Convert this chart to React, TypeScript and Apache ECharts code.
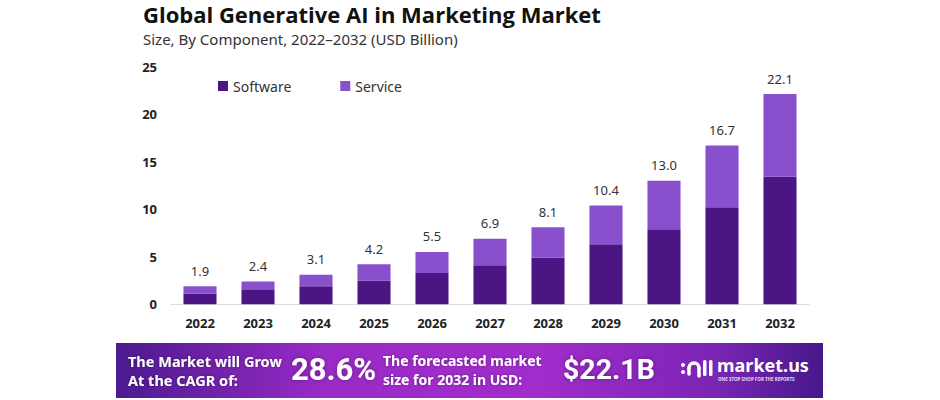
import React, { useEffect, useRef } from "react";
import * as echarts from "echarts";

const years = ["2022", "2023", "2024", "2025", "2026", "2027", "2028", "2029", "2030", "2031", "2032"];
const software = [1.1, 1.5, 1.9, 2.5, 3.3, 4.1, 4.9, 6.3, 7.9, 10.2, 13.4];
const service = [0.8, 0.9, 1.2, 1.7, 2.2, 2.8, 3.2, 4.1, 5.1, 6.5, 8.7];
const totals = [1.9, 2.4, 3.1, 4.2, 5.5, 6.9, 8.1, 10.4, 13.0, 16.7, 22.1];
const yMax = 25;
const yInterval = 5;

const title = "Global Generative AI in Marketing Market";
const subtitle = "Size, By Component, 2022–2032 (USD Billion)";
const cagrLines = ["The Market will Grow", "At the CAGR of:"];
const cagrValue = "28.6%";
const forecastLines = ["The forecasted market", "size for 2032 in USD:"];
const forecastValue = "$22.1B";
const brand = "market.us";
const tagline = "ONE STOP SHOP FOR THE REPORTS";

const DARK = "#4b1684";
const LIGHT = "#8a4fcc";

export default function App() {
  const ref = useRef<HTMLDivElement>(null);
  useEffect(() => {
    document.body.style.margin = "0";
    const chart = echarts.init(ref.current!, null, { renderer: "svg" });
    const white = "#ffffff";
    const bannerLine = (text: string, x: number, y: number, size: number) => ({
      type: "text",
      x,
      y,
      style: {
        text,
        fontFamily: "Noto Sans",
        fontWeight: "bold",
        fontSize: size,
        lineHeight: 15,
        fill: white,
        verticalAlign: "middle",
        textShadowColor: "rgba(0,0,0,0.35)",
        textShadowBlur: 3,
      },
    });
    chart.setOption({
      animation: false,
      backgroundColor: "#ffffff",
      legend: {
        left: 213,
        top: 74,
        itemWidth: 10,
        itemHeight: 10,
        itemGap: 49,
        icon: "rect",
        textStyle: { fontFamily: "Noto Sans", fontSize: 14, color: "#333" },
        data: ["Software", "Service"],
      },
      grid: { left: 171, right: 131, top: 66.5, bottom: 95.7 },
      xAxis: {
        type: "category",
        data: years,
        axisLine: { lineStyle: { color: "#dddddd", width: 1 } },
        axisTick: { show: false },
        axisLabel: {
          margin: 12,
          fontFamily: "Open Sans",
          fontWeight: "bold",
          fontSize: 13,
          color: "#222",
        },
      },
      yAxis: {
        type: "value",
        min: 0,
        max: yMax,
        interval: yInterval,
        splitLine: { show: false },
        axisLine: { show: false },
        axisTick: { show: false },
        axisLabel: {
          margin: 14,
          fontFamily: "Open Sans",
          fontWeight: "bold",
          fontSize: 13,
          color: "#222",
        },
      },
      series: [
        {
          name: "Software",
          type: "bar",
          stack: "total",
          data: software,
          barWidth: "57%",
          itemStyle: { color: DARK },
        },
        {
          name: "Service",
          type: "bar",
          stack: "total",
          data: service,
          barWidth: "57%",
          itemStyle: { color: LIGHT },
          label: {
            show: true,
            position: "top",
            distance: 9,
            fontFamily: "Noto Sans",
            fontSize: 13,
            color: "#333",
            formatter: (p: any) => totals[p.dataIndex].toFixed(1),
          },
        },
      ],
      graphic: [
        {
          type: "text",
          left: 143,
          top: 3,
          style: { text: title, fontFamily: "Open Sans", fontWeight: "bold", fontSize: 22, fill: "#111" },
        },
        {
          type: "text",
          left: 143,
          top: 31,
          style: { text: subtitle, fontFamily: "Noto Sans", fontSize: 15, fill: "#333" },
        },
        {
          type: "rect",
          shape: { x: 116, y: 343, width: 707, height: 55 },
          style: {
            fill: {
              type: "linear",
              x: 0,
              y: 0,
              x2: 1,
              y2: 0,
              colorStops: [
                { offset: 0, color: "#4c1a8e" },
                { offset: 0.3, color: "#9a2bc8" },
                { offset: 0.6, color: "#a22ccc" },
                { offset: 0.85, color: "#7a25b4" },
                { offset: 1, color: "#46188a" },
              ],
            },
          },
        },
        bannerLine(cagrLines[0], 128, 360.5, 14.5),
        bannerLine(cagrLines[1], 128, 379.5, 14.5),
        {
          type: "text",
          x: 291,
          y: 369,
          style: {
            text: cagrValue,
            fontFamily: "Roboto",
            fontWeight: "bold",
            fontSize: 31,
            fill: white,
            verticalAlign: "middle",
            textShadowColor: "rgba(0,0,0,0.35)",
            textShadowBlur: 4,
          },
        },
        bannerLine(forecastLines[0], 383, 360.5, 14),
        bannerLine(forecastLines[1], 383, 379.5, 14),
        {
          type: "text",
          x: 563,
          y: 369,
          style: {
            text: forecastValue,
            fontFamily: "Roboto",
            fontWeight: "bold",
            fontSize: 28.5,
            fill: white,
            verticalAlign: "middle",
            textShadowColor: "rgba(0,0,0,0.35)",
            textShadowBlur: 4,
          },
        },
        { type: "circle", shape: { cx: 683, cy: 365, r: 2 }, style: { fill: white } },
        { type: "circle", shape: { cx: 683, cy: 372, r: 2 }, style: { fill: white } },
        {
          type: "arc",
          shape: { cx: 694, cy: 368, r: 5, startAngle: Math.PI, endAngle: 0, clockwise: true },
          style: { stroke: white, lineWidth: 3.5, fill: "none", lineCap: "round" },
        },
        { type: "line", shape: { x1: 689, y1: 368, x2: 689, y2: 374 }, style: { stroke: white, lineWidth: 3.5, lineCap: "round" } },
        { type: "line", shape: { x1: 699, y1: 368, x2: 699, y2: 376 }, style: { stroke: white, lineWidth: 3.5, lineCap: "round" } },
        { type: "rect", shape: { x: 703, y: 360, width: 3.5, height: 16, r: 1.5 }, style: { fill: white } },
        { type: "rect", shape: { x: 709, y: 360, width: 3.5, height: 16, r: 1.5 }, style: { fill: white } },
        {
          type: "text",
          x: 717,
          y: 365,
          style: {
            text: brand,
            fontFamily: "Noto Sans",
            fontWeight: "bold",
            fontSize: 18,
            lineHeight: 14,
            fill: white,
            verticalAlign: "middle",
          },
        },
        {
          type: "text",
          x: 718,
          y: 378.5,
          style: {
            text: tagline,
            fontFamily: "Noto Sans",
            fontWeight: "bold",
            fontSize: 4.5,
            lineHeight: 5,
            fill: "rgba(255,255,255,0.85)",
            verticalAlign: "middle",
          },
        },
      ],
    });
    return () => chart.dispose();
  }, []);
  return <div ref={ref} style={{ width: 940, height: 400 }} />;
}
